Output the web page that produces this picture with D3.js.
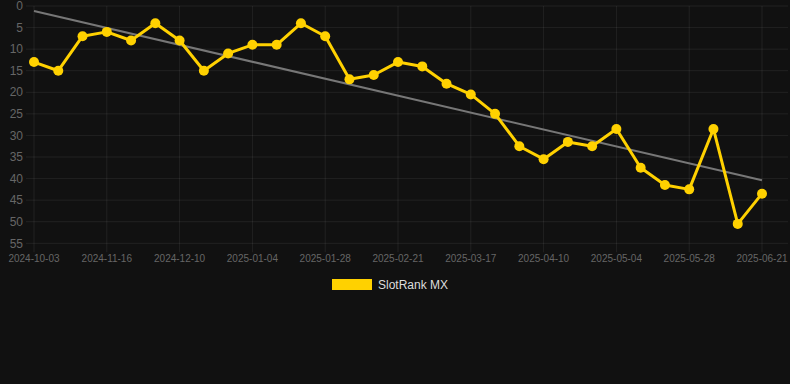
<!DOCTYPE html>
<html>
<head>
<meta charset="utf-8">
<script src="https://cdn.jsdelivr.net/npm/d3@7"></script>
<style>
  html, body { margin: 0; padding: 0; background: #111111; }
  svg { display: block; font-family: "Liberation Sans", Arial, sans-serif; }
</style>
</head>
<body>
<svg id="chart"></svg>
<script>
// category dates (only every third one is labelled on the axis)
const dates = [
    '2024-10-03', '2024-10-18', '2024-11-01', '2024-11-16', '2024-11-24', '2024-12-02',
    '2024-12-10', '2024-12-18', '2024-12-27', '2025-01-04', '2025-01-12', '2025-01-20',
    '2025-01-28', '2025-02-05', '2025-02-13', '2025-02-21', '2025-03-01', '2025-03-09',
    '2025-03-17', '2025-03-25', '2025-04-02', '2025-04-10', '2025-04-18', '2025-04-26',
    '2025-05-04', '2025-05-12', '2025-05-20', '2025-05-28', '2025-06-05', '2025-06-13',
    '2025-06-21'
];

const ranks = [
    13, 15, 7, 6, 8, 4, 8, 15, 11, 9, 9, 4, 7, 17, 16, 13,
    14, 18, 20.5, 25, 32.5, 35.5, 31.5, 32.5, 28.5, 37.5, 41.5, 42.5, 28.5, 50.5, 43.5
];

const yTicks = [0, 5, 10, 15, 20, 25, 30, 35, 40, 45, 50, 55];
const seriesName = 'SlotRank MX';

const fullWidth = 790;
const fullHeight = 384;
const plot = {left: 34, right: 762, top: 6, bottom: 243.3};

const svg = d3.select('#chart')
    .attr('width', fullWidth)
    .attr('height', fullHeight);

const x = d3.scalePoint()
    .domain(d3.range(dates.length))
    .range([plot.left, plot.right]);

const y = d3.scaleLinear()
    .domain([0, 55])
    .range([plot.top, plot.bottom]);

const gridColor = 'rgba(255,255,255,0.07)';
const labelColor = '#666666';

// horizontal grid + y labels
const yAxis = svg.append('g').attr('class', 'y-axis');
yAxis.selectAll('line').data(yTicks)
    .enter().append('line')
        .attr('x1', 26)
        .attr('x2', 788)
        .attr('y1', d => y(d))
        .attr('y2', d => y(d))
        .attr('stroke', gridColor)
        .attr('stroke-width', 1);

yAxis.selectAll('text').data(yTicks)
    .enter().append('text')
        .attr('x', 23)
        .attr('y', d => y(d))
        .attr('dy', '0.35em')
        .attr('text-anchor', 'end')
        .attr('fill', labelColor)
        .style('font-size', '12px')
        .text(d => d);

// vertical grid + x labels, every third category
const xTickIdx = d3.range(0, dates.length, 3);
const xAxis = svg.append('g').attr('class', 'x-axis');
xAxis.selectAll('line').data(xTickIdx)
    .enter().append('line')
        .attr('x1', d => x(d))
        .attr('x2', d => x(d))
        .attr('y1', plot.top)
        .attr('y2', plot.bottom + 9)
        .attr('stroke', gridColor)
        .attr('stroke-width', 1);

xAxis.selectAll('text').data(xTickIdx)
    .enter().append('text')
        .attr('x', d => x(d))
        .attr('y', 262)
        .attr('text-anchor', 'middle')
        .attr('fill', labelColor)
        .style('font-size', '10px')
        .text(d => dates[d]);

// linear trend of the series
const n = ranks.length;
const meanX = d3.mean(d3.range(n));
const meanY = d3.mean(ranks);
const slope = d3.sum(ranks, (v, i) => (i - meanX) * (v - meanY)) /
    d3.sum(d3.range(n), i => (i - meanX) ** 2);
const intercept = meanY - slope * meanX;

svg.append('line')
    .attr('class', 'trend')
    .attr('x1', x(0))
    .attr('y1', y(intercept))
    .attr('x2', x(n - 1))
    .attr('y2', y(intercept + slope * (n - 1)))
    .attr('stroke', '#777777')
    .attr('stroke-width', 2);

// series
const lineColor = '#FFD100';
const line = d3.line()
    .x((d, i) => x(i))
    .y(d => y(d));

svg.append('path')
    .datum(ranks)
    .attr('fill', 'none')
    .attr('stroke', lineColor)
    .attr('stroke-width', 3)
    .attr('stroke-linejoin', 'round')
    .attr('d', line);

svg.append('g').selectAll('circle').data(ranks)
    .enter().append('circle')
        .attr('cx', (d, i) => x(i))
        .attr('cy', d => y(d))
        .attr('r', 5)
        .attr('fill', lineColor);

// legend
const legend = svg.append('g').attr('transform', 'translate(332, 279)');
legend.append('rect')
    .attr('width', 40)
    .attr('height', 11)
    .attr('fill', lineColor);
legend.append('text')
    .attr('x', 46)
    .attr('y', 5.5)
    .attr('dy', '0.35em')
    .attr('fill', '#dddddd')
    .style('font-size', '12px')
    .text(seriesName);
</script>
</body>
</html>
